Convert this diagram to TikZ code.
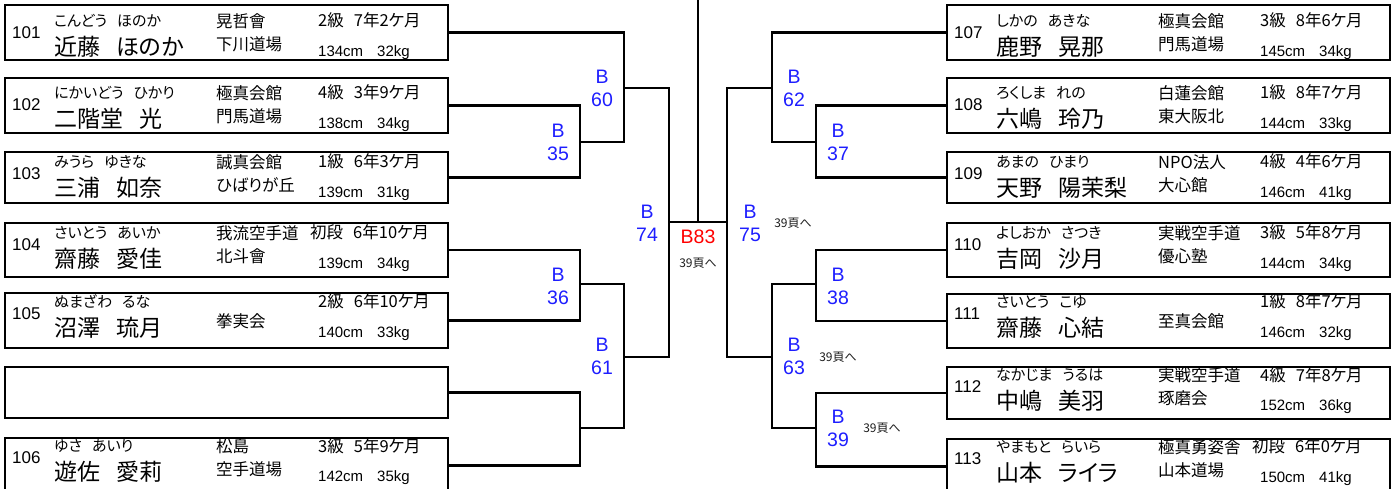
\documentclass[tikz,border=0pt]{standalone}
\usepackage{fontspec}
\setmainfont{Liberation Sans}
\newfontfamily\jp[RawFeature=+palt]{Noto Sans CJK JP}
\definecolor{bblue}{RGB}{30,30,255}
\definecolor{bred}{RGB}{255,0,0}
\definecolor{notec}{RGB}{30,30,30}
\newcommand\gapR{\hspace{10pt}}
\newcommand\gapN{\hspace{16pt}}
\newcommand\gapK{\hspace{10pt}}
\newcommand\gapM{\hspace{14pt}}
\tikzset{
  pbox/.style={draw, line width=2.2pt, minimum width=443pt, inner sep=0pt, outer sep=0pt, anchor=north west},
  conn/.style={line width=2.2pt},
  numt/.style={anchor=west, inner sep=0pt, font=\fontsize{17}{17}\selectfont},
  readt/.style={anchor=west, inner sep=0pt, font=\jp\fontsize{15}{15}\selectfont},
  namet/.style={anchor=west, inner sep=0pt, font=\jp\fontsize{23}{23}\selectfont},
  dojot/.style={anchor=west, inner sep=0pt, align=left, font=\jp\fontsize{16.5}{23}\selectfont},
  rankt/.style={anchor=west, inner sep=0pt, font=\jp\fontsize{16.5}{16.5}\selectfont},
  meast/.style={anchor=west, inner sep=0pt, font=\fontsize{15}{15}\selectfont},
  blab/.style={align=center, inner sep=0pt, text=bblue, font=\fontsize{19.5}{23}\selectfont},
  rlab/.style={inner sep=0pt, text=bred, font=\fontsize{19.5}{19.5}\selectfont},
  notet/.style={inner sep=0pt, text=notec, font=\jp\fontsize{12}{12}\selectfont}
}
% id, x, top, height, reading-y, reading, name, dojo, dojo-dy
\newcommand\pl[9]{%
  \node[pbox, minimum height=#4pt] (b#1) at (#2,#3) {};
  \node[numt] (n#1) at ({#2+7},{#5+12}) {#1};
  \node[readt] (r#1) at ({#2+49},{#5}) {#6};
  \node[namet] (m#1) at ({#2+49},{#5+26}) {#7};
  \node[dojot] (d#1) at ({#2+211},{#5+#9}) {#8};
}
% id, x, reading-y, rank-dx, rank, measure
\newcommand\rk[6]{%
  \node[rankt] (g#1) at ({#2+#4},{#3}) {#5};
  \node[meast] (s#1) at ({#2+313},{#3+32}) {#6};
}
\begin{document}
\begin{tikzpicture}[x=1pt,y=-1pt,line join=miter]
\clip (0,0) rectangle (1397,489);
\fill[white] (0,0) rectangle (1397,489);
% left side
\pl{101}{5}{5}{55}{20.5}{こんどう\gapR ほのか}{近藤\gapN ほのか}{晃哲會\\下川道場}{12}
\rk{101}{5}{20.5}{313}{2級\gapK 7年2ケ月}{134cm\gapM 32kg}
\pl{102}{5}{78}{55}{92.5}{にかいどう\gapR ひかり}{二階堂\gapN 光}{極真会館\\門馬道場}{12}
\rk{102}{5}{92.5}{313}{4級\gapK 3年9ケ月}{138cm\gapM 34kg}
\pl{103}{5}{152}{51}{161.5}{みうら\gapR ゆきな}{三浦\gapN 如奈}{誠真会館\\ひばりが丘}{12}
\rk{103}{5}{161.5}{313}{1級\gapK 6年3ケ月}{139cm\gapM 31kg}
\pl{104}{5}{223}{54}{232.5}{さいとう\gapR あいか}{齋藤\gapN 愛佳}{我流空手道\\北斗會}{12}
\rk{104}{5}{232.5}{305}{初段\gapK 6年10ケ月}{139cm\gapM 34kg}
\pl{105}{5}{293}{55}{301.5}{ぬまざわ\gapR るな}{沼澤\gapN 琉月}{拳実会}{20}
\rk{105}{5}{301.5}{313}{2級\gapK 6年10ケ月}{140cm\gapM 33kg}
\node[pbox, minimum height=51pt] (e1) at (5,367) {};
\pl{106}{5}{438}{55}{446}{ゆさ\gapR あいり}{遊佐\gapN 愛莉}{松島\\空手道場}{12}
\rk{106}{5}{446}{313}{3級\gapK 5年9ケ月}{142cm\gapM 35kg}
% right side
\pl{107}{947}{5}{55}{20.5}{しかの\gapR あきな}{鹿野\gapN 晃那}{極真会館\\門馬道場}{12}
\rk{107}{947}{20.5}{313}{3級\gapK 8年6ケ月}{145cm\gapM 34kg}
\pl{108}{947}{78}{55}{92.5}{ろくしま\gapR れの}{六嶋\gapN 玲乃}{白蓮会館\\東大阪北}{12}
\rk{108}{947}{92.5}{313}{1級\gapK 8年7ケ月}{144cm\gapM 33kg}
\pl{109}{947}{152}{51}{161.5}{あまの\gapR ひまり}{天野\gapN 陽茉梨}{NPO法人\\大心館}{12}
\rk{109}{947}{161.5}{313}{4級\gapK 4年6ケ月}{146cm\gapM 41kg}
\pl{110}{947}{223}{54}{232.5}{よしおか\gapR さつき}{吉岡\gapN 沙月}{実戦空手道\\優心塾}{12}
\rk{110}{947}{232.5}{313}{3級\gapK 5年8ケ月}{144cm\gapM 34kg}
\pl{111}{947}{294}{54}{301.5}{さいとう\gapR こゆ}{齋藤\gapN 心結}{至真会館}{20}
\rk{111}{947}{301.5}{313}{1級\gapK 8年7ケ月}{146cm\gapM 32kg}
\pl{112}{947}{367}{52}{375}{なかじま\gapR うるは}{中嶋\gapN 美羽}{実戦空手道\\琢磨会}{12}
\rk{112}{947}{375}{313}{4級\gapK 7年8ケ月}{152cm\gapM 36kg}
\pl{113}{947}{439}{55}{446.5}{やまもと\gapR らいら}{山本\gapN ライラ}{極真勇姿舎\\山本道場}{12}
\rk{113}{947}{446.5}{305}{初段\gapK 6年0ケ月}{150cm\gapM 41kg}
% junctions
\coordinate (j35) at (580,142);
\coordinate (j60) at (624,88);
\coordinate (j36) at (580,284);
\coordinate (jE) at (580,428);
\coordinate (j61) at (624,357);
\coordinate (j74) at (669,222);
\coordinate (j75) at (727,222);
\coordinate (jtop) at (698,0);
\coordinate (jf) at (698,222);
\coordinate (j62) at (772,88);
\coordinate (j37) at (816,142);
\coordinate (j63) at (772,357);
\coordinate (j38) at (816,284);
\coordinate (j39) at (816,428);
% left connectors
\draw[conn] (b101.east) -| (j60) |- (j35);
\draw[conn] (b102.east) -| (j35) |- (b103.east);
\draw[conn] (j60) -| (j74) |- (j61);
\draw[conn] (j36) -| (j61) |- (jE);
\draw[conn] (b104.east) -| (j36) |- (b105.east);
\draw[conn] (e1.east) -| (jE) |- (b106.east);
% centre
\draw[conn] (j74) -- (j75);
\draw[conn] (jtop) -- (jf);
% right connectors
\draw[conn] (j62) -| (j75) |- (j63);
\draw[conn] (b107.west) -| (j62) |- (j37);
\draw[conn] (b108.west) -| (j37) |- (b109.west);
\draw[conn] (j38) -| (j63) |- (j39);
\draw[conn] (b110.west) -| (j38) |- (b111.west);
\draw[conn] (b112.west) -| (j39) |- (b113.west);
% labels
\node[blab] (l60) at (602,88.5) {B\\60};
\node[blab] (l35) at (558,142) {B\\35};
\node[blab] (l74) at (647,223) {B\\74};
\node[blab] (l75) at (750,223) {B\\75};
\node[blab] (l62) at (794,88.5) {B\\62};
\node[blab] (l37) at (838,142) {B\\37};
\node[blab] (l36) at (558,286) {B\\36};
\node[blab] (l61) at (602,356.5) {B\\61};
\node[blab] (l38) at (838,286) {B\\38};
\node[blab] (l63) at (794,356.5) {B\\63};
\node[blab] (l39) at (838,428.5) {B\\39};
\node[rlab] (l83) at (698,237) {B83};
\node[notet] (t83) at (698,263) {39頁へ};
\node[notet] (t75) at (793,223) {39頁へ};
\node[notet] (t63) at (838,357) {39頁へ};
\node[notet] (t39) at (882,428) {39頁へ};
\end{tikzpicture}
\end{document}
